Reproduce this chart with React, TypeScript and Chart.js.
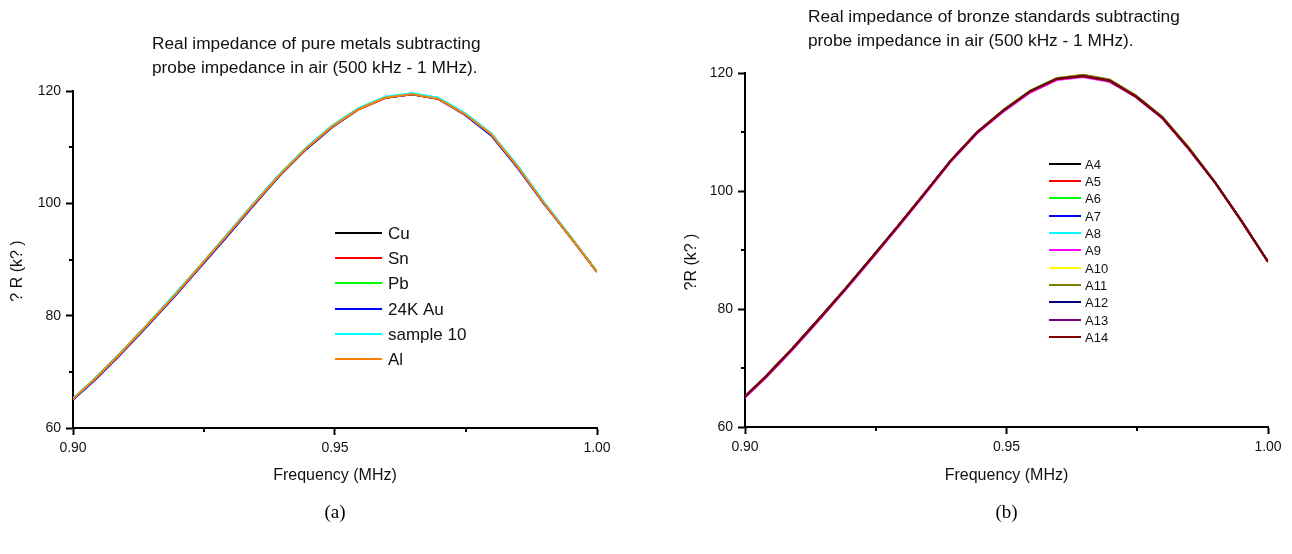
import React, { useEffect, useRef } from 'react';
import { Chart, registerables } from 'chart.js';

Chart.register(...registerables);

// Frequency sweep points (MHz), 500 kHz – 1 MHz sweep, upper part shown
const frequencies = [
  0.89899, 0.90404, 0.90909, 0.91414, 0.91919, 0.92424, 0.92929, 0.93434, 0.93939, 0.94444,
  0.94949, 0.95455, 0.9596, 0.96465, 0.9697, 0.97475, 0.9798, 0.98485, 0.9899, 0.99495, 1.0,
];

// Axis ticks
const xTicks = [0.9, 0.95, 1.0];
const xTickLabels = ['0.90', '0.95', '1.00'];
const xMinorTicks = [0.925, 0.975];
const yTicks = [60, 80, 100, 120];
const yTickLabels = ['60', '80', '100', '120'];
const yMinorTicks = [70, 90, 110];

// (a) pure metals, ΔR in kΩ
const metalNames = ['Cu', 'Sn', 'Pb', '24K Au', 'sample 10', 'Al'];
const metalColors = ['#000000', '#ff0000', '#00ff00', '#0000ff', '#00ffff', '#ff8000'];
const cuValues = [64.3, 68.6, 73.3, 78.3, 83.4, 88.7, 94.1, 99.6, 104.9, 109.6, 113.6, 116.8, 118.8, 119.4, 118.6, 115.9, 112.3, 106.5, 100.0, 94.0, 87.8];
const snValues = [64.3, 68.6, 73.3, 78.3, 83.4, 88.8, 94.2, 99.6, 105.0, 109.7, 113.7, 116.8, 118.8, 119.4, 118.6, 115.9, 112.3, 106.5, 100.0, 94.0, 87.8];
const pbValues = [64.3, 68.7, 73.3, 78.4, 83.5, 88.8, 94.2, 99.7, 105.0, 109.7, 113.7, 116.9, 118.9, 119.5, 118.7, 116.0, 112.3, 106.5, 100.0, 94.0, 87.8];
const auValues = [64.2, 68.4, 73.1, 78.1, 83.2, 88.6, 94.0, 99.5, 104.9, 109.6, 113.6, 116.8, 118.8, 119.4, 118.6, 115.8, 112.1, 106.3, 99.9, 94.0, 87.8];
const sample10Values = [64.4, 68.7, 73.4, 78.4, 83.6, 88.9, 94.4, 99.9, 105.2, 109.9, 113.9, 117.0, 119.0, 119.6, 118.8, 116.1, 112.5, 106.7, 100.2, 94.1, 87.9];
const alValues = [64.3, 68.6, 73.3, 78.3, 83.4, 88.8, 94.2, 99.7, 105.0, 109.7, 113.7, 116.8, 118.8, 119.4, 118.6, 115.9, 112.3, 106.5, 100.0, 94.0, 87.8];

// (b) bronze standards, ΔR in kΩ
const bronzeNames = ['A4', 'A5', 'A6', 'A7', 'A8', 'A9', 'A10', 'A11', 'A12', 'A13', 'A14'];
const bronzeColors = ['#000000', '#ff0000', '#00ff00', '#0000ff', '#00ffff', '#ff00ff', '#ffff00', '#808000', '#000080', '#800080', '#800000'];
const a4Values = [64.3, 68.6, 73.3, 78.3, 83.4, 88.7, 94.1, 99.6, 105.2, 110.0, 113.7, 116.9, 119.0, 119.5, 118.7, 116.0, 112.4, 107.2, 101.4, 94.9, 88.0];
const a5Values = [64.3, 68.6, 73.3, 78.3, 83.4, 88.7, 94.1, 99.6, 105.2, 110.0, 113.7, 116.9, 119.0, 119.6, 118.8, 116.0, 112.4, 107.2, 101.4, 94.9, 88.0];
const a6Values = [64.3, 68.6, 73.3, 78.3, 83.5, 88.8, 94.1, 99.6, 105.2, 110.0, 113.8, 117.0, 119.1, 119.6, 118.8, 116.1, 112.5, 107.3, 101.4, 94.9, 88.0];
const a7Values = [64.3, 68.6, 73.3, 78.3, 83.4, 88.7, 94.1, 99.6, 105.2, 110.0, 113.7, 116.9, 119.0, 119.5, 118.7, 116.0, 112.4, 107.2, 101.4, 94.9, 88.0];
const a8Values = [64.3, 68.6, 73.3, 78.3, 83.4, 88.7, 94.1, 99.6, 105.2, 110.0, 113.7, 116.9, 119.0, 119.5, 118.7, 116.0, 112.4, 107.2, 101.4, 94.9, 88.0];
const a9Values = [64.1, 68.4, 73.1, 78.1, 83.2, 88.5, 93.9, 99.4, 105.0, 109.8, 113.5, 116.7, 118.8, 119.3, 118.5, 115.9, 112.3, 107.1, 101.4, 94.9, 88.0];
const a10Values = [64.3, 68.6, 73.3, 78.3, 83.4, 88.7, 94.1, 99.6, 105.2, 110.0, 113.7, 116.9, 119.0, 119.5, 118.7, 116.0, 112.4, 107.2, 101.4, 94.9, 88.0];
const a11Values = [64.3, 68.6, 73.3, 78.3, 83.4, 88.7, 94.1, 99.6, 105.2, 110.0, 113.8, 117.0, 119.1, 119.7, 118.9, 116.2, 112.6, 107.4, 101.5, 94.9, 88.0];
const a12Values = [64.3, 68.6, 73.3, 78.3, 83.4, 88.7, 94.1, 99.6, 105.2, 110.0, 113.7, 116.9, 119.0, 119.5, 118.7, 116.0, 112.4, 107.2, 101.4, 94.9, 88.0];
const a13Values = [64.3, 68.6, 73.3, 78.3, 83.4, 88.7, 94.1, 99.6, 105.2, 110.0, 113.7, 116.9, 119.0, 119.5, 118.7, 116.0, 112.4, 107.2, 101.4, 94.9, 88.0];
const a14Values = [64.3, 68.6, 73.3, 78.3, 83.4, 88.7, 94.1, 99.6, 105.2, 110.0, 113.7, 116.9, 119.0, 119.5, 118.7, 116.0, 112.4, 107.2, 101.4, 94.9, 88.0];

const SANS = '"Liberation Sans", Arial, sans-serif';
const SERIF = '"Liberation Serif", "Times New Roman", serif';

const CANVAS_W = 646;
const CANVAS_H = 554;

interface PanelConfig {
  names: string[];
  colors: string[];
  series: number[][];
  titleLines: string[];
  titleX: number;
  titleBaselines: number[];
  yTitle: string;
  yTitleX: number;
  yTitleY: number;
  xTitleBaseline: number;
  panelLabel: string;
  panelLabelBaseline: number;
  legend: { x1: number; x2: number; textX: number; top: number; step: number; font: number };
  padTop: number;
  padRight: number;
  yAxisWidth: number;
  xAxisHeight: number;
}

const panelA: PanelConfig = {
  names: metalNames,
  colors: metalColors,
  series: [cuValues, snValues, pbValues, auValues, sample10Values, alValues],
  titleLines: ['Real impedance of pure metals subtracting', 'probe impedance in air (500 kHz - 1 MHz).'],
  titleX: 152,
  titleBaselines: [49, 73],
  yTitle: '? R (k? )',
  yTitleX: 18,
  yTitleY: 271,
  xTitleBaseline: 480,
  panelLabel: '(a)',
  panelLabelBaseline: 518,
  legend: { x1: 335, x2: 382, textX: 388, top: 233, step: 25.2, font: 17 },
  padTop: 91,
  padRight: 49,
  yAxisWidth: 73,
  xAxisHeight: 126,
};

const panelB: PanelConfig = {
  names: bronzeNames,
  colors: bronzeColors,
  series: [a4Values, a5Values, a6Values, a7Values, a8Values, a9Values, a10Values, a11Values, a12Values, a13Values, a14Values],
  titleLines: ['Real impedance of bronze standards subtracting', 'probe impedance in air (500 kHz - 1 MHz).'],
  titleX: 162,
  titleBaselines: [22, 46],
  yTitle: '?R (k? )',
  yTitleX: 46,
  yTitleY: 262,
  xTitleBaseline: 480,
  panelLabel: '(b)',
  panelLabelBaseline: 518,
  legend: { x1: 403, x2: 435, textX: 439, top: 163.5, step: 17.35, font: 13 },
  padTop: 73,
  padRight: 24,
  yAxisWidth: 99,
  xAxisHeight: 127,
};

// Draws titles, minor ticks and the in-plot legend on top of the chart
function makeDecor(cfg: PanelConfig) {
  return {
    id: 'decor',
    afterDraw(chart: any) {
      const ctx: CanvasRenderingContext2D = chart.ctx;
      const { left, right, bottom } = chart.chartArea;
      const xs = chart.scales.x;
      const ys = chart.scales.y;
      ctx.save();

      ctx.strokeStyle = '#000';
      ctx.lineWidth = 2;
      xMinorTicks.forEach((v) => {
        const px = Math.round(xs.getPixelForValue(v));
        ctx.beginPath();
        ctx.moveTo(px, bottom);
        ctx.lineTo(px, bottom + 4);
        ctx.stroke();
      });
      yMinorTicks.forEach((v) => {
        const py = Math.round(ys.getPixelForValue(v));
        ctx.beginPath();
        ctx.moveTo(left, py);
        ctx.lineTo(left - 4, py);
        ctx.stroke();
      });

      ctx.fillStyle = '#111';
      ctx.textBaseline = 'alphabetic';
      ctx.textAlign = 'left';
      ctx.font = `17.3px ${SANS}`;
      cfg.titleLines.forEach((line, i) => ctx.fillText(line, cfg.titleX, cfg.titleBaselines[i]));

      ctx.textAlign = 'center';
      ctx.font = `16px ${SANS}`;
      ctx.fillText('Frequency (MHz)', (left + right) / 2, cfg.xTitleBaseline);

      ctx.font = `19px ${SERIF}`;
      ctx.fillStyle = '#000';
      ctx.fillText(cfg.panelLabel, (left + right) / 2, cfg.panelLabelBaseline);

      ctx.save();
      ctx.translate(cfg.yTitleX, cfg.yTitleY);
      ctx.rotate(-Math.PI / 2);
      ctx.textAlign = 'center';
      ctx.textBaseline = 'middle';
      ctx.font = `16px ${SANS}`;
      ctx.fillStyle = '#111';
      ctx.fillText(cfg.yTitle, 0, 0);
      ctx.restore();

      const lg = cfg.legend;
      ctx.textAlign = 'left';
      ctx.textBaseline = 'middle';
      ctx.font = `${lg.font}px ${SANS}`;
      cfg.names.forEach((name, i) => {
        const y = Math.round(lg.top + i * lg.step);
        ctx.strokeStyle = cfg.colors[i];
        ctx.lineWidth = 2;
        ctx.beginPath();
        ctx.moveTo(lg.x1, y);
        ctx.lineTo(lg.x2, y);
        ctx.stroke();
        ctx.fillStyle = '#111';
        ctx.fillText(name, lg.textX, y + 1);
      });

      ctx.restore();
    },
  };
}

function buildConfig(cfg: PanelConfig): any {
  const n = cfg.series.length;
  return {
    type: 'line',
    data: {
      datasets: cfg.series.map((vals, i) => ({
        label: cfg.names[i],
        data: frequencies.map((f, j) => ({ x: f, y: vals[j] })),
        borderColor: cfg.colors[i],
        backgroundColor: cfg.colors[i],
        borderWidth: 2,
        pointRadius: 0,
        tension: 0,
        fill: false,
        order: n - i,
      })),
    },
    options: {
      responsive: false,
      animation: false,
      devicePixelRatio: 1,
      layout: { padding: { top: cfg.padTop, right: cfg.padRight, left: 0, bottom: 0 } },
      plugins: {
        legend: { display: false },
        title: { display: false },
        tooltip: { enabled: false },
      },
      scales: {
        x: {
          type: 'linear',
          min: 0.9,
          max: 1.0,
          afterBuildTicks: (s: any) => {
            s.ticks = xTicks.map((v) => ({ value: v }));
          },
          afterFit: (s: any) => {
            s.height = cfg.xAxisHeight;
          },
          ticks: {
            callback: (_v: any, i: number) => xTickLabels[i],
            font: { family: SANS, size: 14 },
            color: '#111',
            padding: 5,
            maxRotation: 0,
            autoSkip: false,
          },
          grid: { drawOnChartArea: false, drawTicks: true, tickLength: 7, tickWidth: 2, tickColor: '#000' },
          border: { display: true, color: '#000', width: 2 },
        },
        y: {
          type: 'linear',
          min: 60,
          max: 120,
          afterBuildTicks: (s: any) => {
            s.ticks = yTicks.map((v) => ({ value: v }));
          },
          afterFit: (s: any) => {
            s.width = cfg.yAxisWidth;
          },
          ticks: {
            callback: (_v: any, i: number) => yTickLabels[i],
            font: { family: SANS, size: 14 },
            color: '#111',
            padding: 5,
          },
          grid: { drawOnChartArea: false, drawTicks: true, tickLength: 7, tickWidth: 2, tickColor: '#000' },
          border: { display: true, color: '#000', width: 2 },
        },
      },
    },
    plugins: [makeDecor(cfg)],
  };
}

function Panel({ cfg, left }: { cfg: PanelConfig; left: number }) {
  const ref = useRef<HTMLCanvasElement>(null);
  useEffect(() => {
    const chart = new Chart(ref.current as HTMLCanvasElement, buildConfig(cfg));
    return () => chart.destroy();
  }, [cfg]);
  return (
    <canvas
      ref={ref}
      width={CANVAS_W}
      height={CANVAS_H}
      style={{ position: 'absolute', left, top: 0, width: CANVAS_W, height: CANVAS_H, display: 'block' }}
    />
  );
}

export default function App() {
  return (
    <div style={{ position: 'absolute', left: 0, top: 0, width: 1292, height: 554, background: '#fff', overflow: 'hidden' }}>
      <Panel cfg={panelA} left={0} />
      <Panel cfg={panelB} left={646} />
    </div>
  );
}
